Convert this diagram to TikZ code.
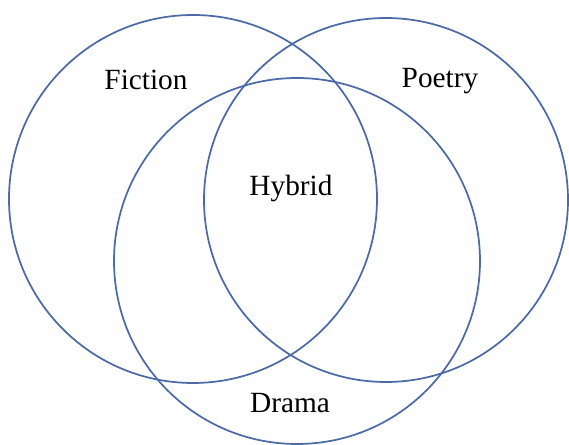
\documentclass[tikz,border=0pt]{standalone}
\usepackage{fontspec}
\setmainfont{Liberation Serif}
\usetikzlibrary{positioning}
\definecolor{ringblue}{HTML}{4C6AA6}
\tikzset{
  ring/.style={circle, draw=ringblue, line width=1.3pt, inner sep=0pt},
  lab/.style={font=\fontsize{22}{26}\selectfont, text=black},
}
\begin{document}
\begin{tikzpicture}[x=0.75pt, y=-0.75pt]
  \useasboundingbox (0,0) rectangle (569,445);
  \node (fic) [ring, minimum size=276pt] at (193,199) {};
  \node (poe) [ring, minimum size=273pt] at (386,200) {};
  \node (dra) [ring, minimum size=274.5pt] at (297,261) {};
  \node (ficlab) [lab] at (146,80) {Fiction};
  \node (poelab) [lab] at (440,81) {Poetry};
  \node (hyblab) [lab] at (291,188) {Hybrid};
  \node (dralab) [lab] at (290,403) {Drama};
\end{tikzpicture}
\end{document}
